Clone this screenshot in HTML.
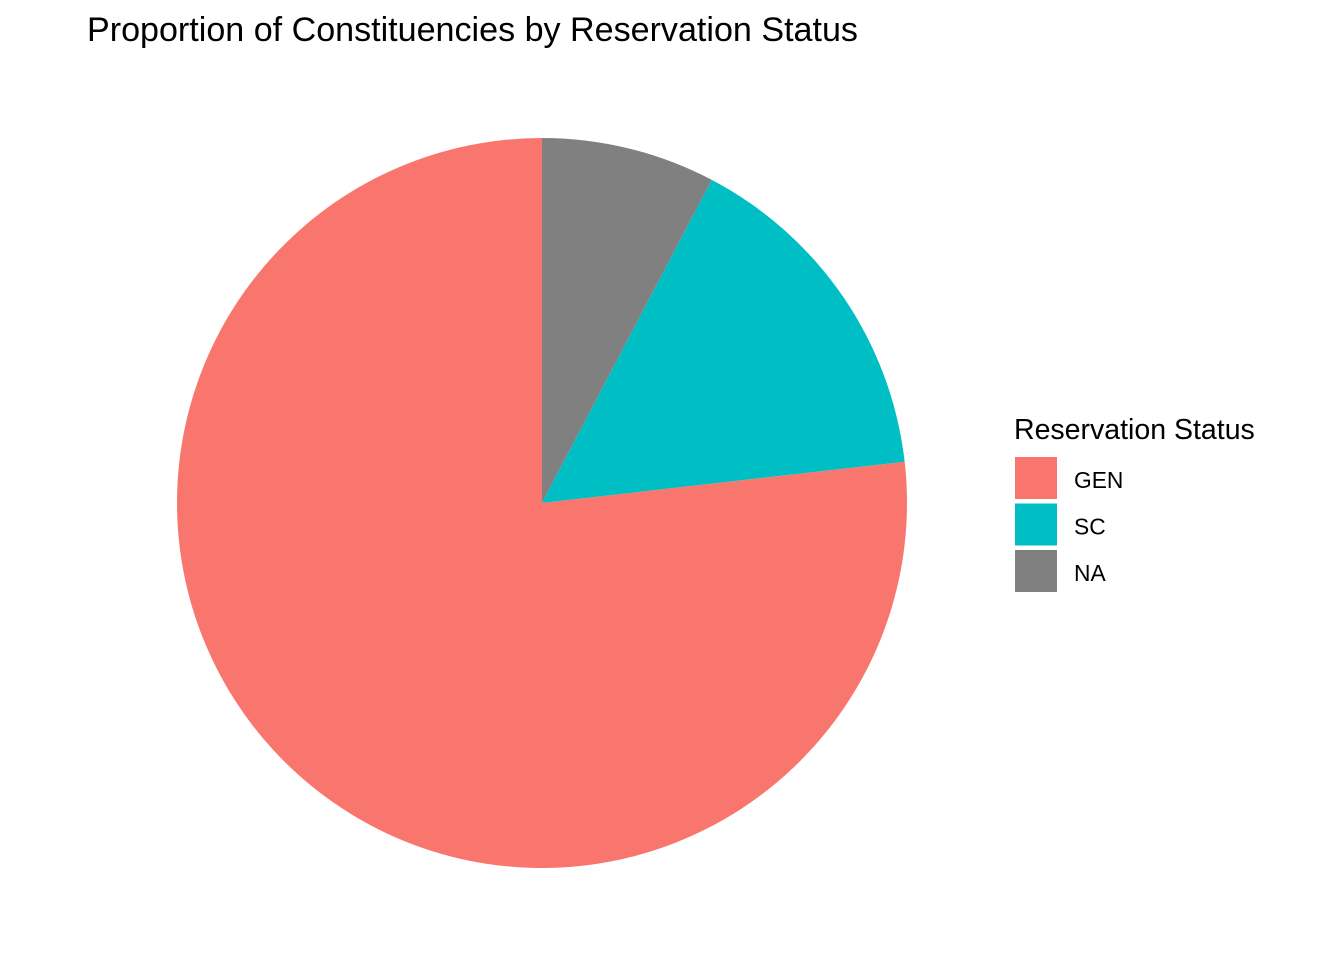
<!DOCTYPE html>
<html><head><meta charset="utf-8"><style>
body{margin:0;background:#fff;}
svg{display:block;font-family:"Liberation Sans",Arial,sans-serif;}
</style></head><body>
<svg id="chart" width="1344" height="960">
<text x="87" y="41" font-size="34.1" fill="#000">Proportion of Constituencies by Reservation Status</text>
<g id="slices"></g>
<g>
<text x="1014" y="439" font-size="28.5" fill="#000">Reservation Status</text>
<g id="legend-items"></g>
</g>
</svg>
<script>
const categories = ["GEN", "SC", "NA"];
const values = [0.768, 0.155, 0.077];
const colors = ["#F8766D", "#00BFC4", "#808080"];
// drawing order clockwise from top
const drawOrder = [2, 1, 0];

const cx = 542, cy = 503, r = 365;
const ns = "http://www.w3.org/2000/svg";
const g = document.getElementById("slices");
const total = values.reduce((a, b) => a + b, 0);
function pt(frac) {
  const a = frac * 2 * Math.PI;
  return [cx + r * Math.sin(a), cy - r * Math.cos(a)];
}
let cum = 0;
drawOrder.forEach(i => {
  const f0 = cum / total, f1 = (cum + values[i]) / total;
  cum += values[i];
  const [x0, y0] = pt(f0), [x1, y1] = pt(f1);
  const large = (f1 - f0) > 0.5 ? 1 : 0;
  const p = document.createElementNS(ns, "path");
  p.setAttribute("d", `M${cx},${cy} L${x0},${y0} A${r},${r} 0 ${large} 1 ${x1},${y1} Z`);
  p.setAttribute("fill", colors[i]);
  
  
  g.appendChild(p);
});
const lg = document.getElementById("legend-items");
categories.forEach((c, i) => {
  const y = 457 + i * 46.5;
  const rect = document.createElementNS(ns, "rect");
  rect.setAttribute("x", 1015); rect.setAttribute("y", y);
  rect.setAttribute("width", 42); rect.setAttribute("height", 42);
  rect.setAttribute("fill", colors[i]);
  
  
  lg.appendChild(rect);
  const t = document.createElementNS(ns, "text");
  t.setAttribute("x", 1074); t.setAttribute("y", y + 31);
  t.setAttribute("font-size", "22.8");
  t.textContent = c;
  
  
  lg.appendChild(t);
});
</script>
</body></html>
